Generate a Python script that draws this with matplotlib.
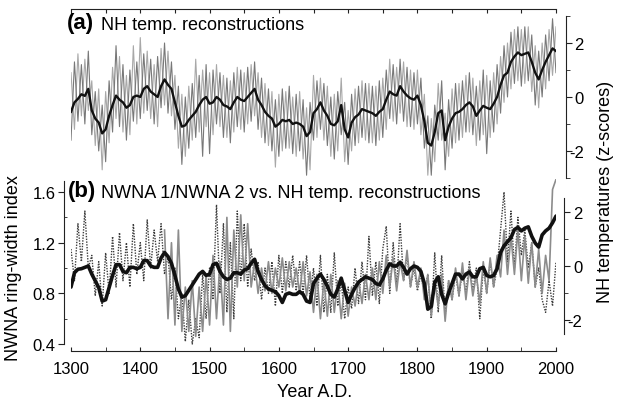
import matplotlib
matplotlib.use("Agg")
import matplotlib.pyplot as plt
import numpy as np
from matplotlib.ticker import FixedLocator

plt.rcParams['font.family'] = ['Liberation Sans', 'DejaVu Sans']
plt.rcParams['axes.unicode_minus'] = False

W, H = 620, 406

# NH temperature reconstructions (z-scores), 5-yr steps from 1300
nh_mean = [
    -0.55, -0.2, -0.07, 0.1, 0.04, 0.3, -0.5, -0.8, -0.95, -1.35,
    -1.2, -0.7, -0.3, 0.05, -0.1, -0.2, -0.4, -0.3, 0.0, 0.05,
    0.0, 0.3, 0.4, 0.2, 0.1, 0.0, 0.4, 0.65, 0.45, 0.3,
    -0.2, -0.7, -1.1, -1.05, -0.85, -0.7, -0.55, -0.3, -0.1, 0.0,
    -0.25, -0.2, 0.0, -0.1, -0.3, -0.35, -0.45, -0.2, 0.0, -0.1,
    -0.15, 0.0, 0.15, 0.3, -0.1, -0.3, -0.55, -0.7, -0.8, -1.1,
    -1.0, -0.85, -0.9, -0.85, -1.0, -0.95, -1.0, -1.1, -1.45, -1.3,
    -0.6, -0.45, -0.2, -0.5, -0.7, -1.0, -1.05, -0.9, -0.3, -1.2,
    -1.5, -0.95, -0.75, -0.65, -0.45, -0.5, -0.55, -0.6, -0.7, -0.55,
    -0.45, -0.1, 0.2, 0.1, 0.05, 0.4, 0.2, 0.05, -0.05, -0.1,
    0.05, -0.3, -0.9, -1.7, -1.8, -1.3, -0.6, -0.5, -1.6, -1.1,
    -0.8, -0.6, -0.55, -0.45, -0.3, -0.2, -0.35, -0.7, -0.5, -0.33,
    -0.4, -0.45, -0.25, 0.0, 0.45, 0.8, 0.9, 1.3, 1.5, 1.65,
    1.55, 1.6, 1.65, 1.3, 0.9, 0.65, 1.0, 1.3, 1.55, 1.8,
    1.7]
nh_rec1 = [
    0.9, -1.2, 1.6, -0.7, 1.4, -0.5, 0.6, -1.8, 0.3, -2.7,
    0.2, -1.7, 1.1, -0.8, 1.5, -1.3, 0.8, -1.4, 1.9, -1.0,
    2.2, -0.6, 1.7, -0.8, 1.2, -1.1, 1.8, -0.3, 1.7, -0.7,
    0.8, -1.9, 0.1, -2.2, 0.4, -1.6, 1.4, -1.3, 1.0, -1.1,
    0.9, -1.4, 1.2, -1.1, 0.8, -1.5, 0.6, -1.3, 1.1, -1.2,
    0.9, -1.0, 1.2, -0.7, 0.9, -1.5, 0.5, -1.8, 0.2, -2.6,
    0.1, -2.0, 0.2, -1.9, 0.0, -2.2, 0.2, -2.3, -0.4, -2.7,
    0.8, -1.5, 0.7, -1.6, 0.4, -2.2, 0.1, -2.0, 0.7, -2.4,
    -0.5, -2.0, 0.3, -1.7, 0.6, -1.6, 0.5, -1.7, 0.4, -1.6,
    0.7, -1.2, 1.4, -0.9, 1.1, -0.6, 1.3, -1.1, 1.0, -1.2,
    1.0, -1.4, 0.1, -2.9, -0.8, -2.4, 0.5, -1.6, -0.6, -2.2,
    0.3, -1.7, 0.5, -1.5, 0.8, -1.3, 0.7, -1.8, 0.6, -1.4,
    0.8, -1.5, 0.9, -1.0, 1.5, -0.2, 2.0, 0.3, 2.5, 0.6,
    2.5, 0.5, 2.6, 0.2, 1.9, -0.4, 2.0, 0.3, 2.5, 0.8,
    2.6]
nh_rec2 = [
    -1.6, 1.3, -0.9, 1.2, -1.0, 1.7, -1.4, 0.2, -2.0, -0.3,
    -2.4, 0.6, -1.3, 1.9, -1.1, 1.2, -1.6, 1.0, -0.9, 1.3,
    -0.8, 1.6, -0.5, 1.4, -1.0, 1.5, -0.4, 2.0, -0.6, 1.3,
    -1.2, 0.4, -2.5, 0.0, -1.9, 0.5, -1.5, 0.8, -2.2, 1.2,
    -2.1, 1.0, -1.0, 0.9, -1.5, 0.7, -1.7, 0.9, -1.1, 1.0,
    -1.3, 1.1, -0.9, 1.3, -1.2, 0.7, -1.7, 0.3, -2.0, -0.1,
    -2.2, 0.3, -1.9, 0.4, -2.1, 0.1, -2.0, -0.1, -2.9, -0.2,
    -1.6, 0.6, -1.2, 0.5, -1.8, 0.0, -2.3, 0.2, -1.4, -0.2,
    -2.5, 0.1, -1.8, 0.4, -1.5, 0.5, -1.7, 0.4, -1.8, 0.6,
    -1.5, 1.0, -0.8, 1.2, -1.0, 1.4, -0.9, 1.1, -1.1, 0.9,
    -1.0, 0.7, -1.9, -0.7, -2.9, -0.3, -1.6, 0.6, -2.7, -0.1,
    -1.9, 0.5, -1.6, 0.6, -1.3, 0.9, -1.4, 0.4, -1.6, 1.0,
    -2.1, 0.6, -1.3, 1.2, -0.6, 1.9, 0.0, 2.4, 0.5, 2.6,
    0.4, 2.6, 0.6, 2.3, -0.3, 1.7, 0.0, 2.3, 0.6, 2.9,
    0.9]

# smoothed NH temperature (z-scores) for panel b
nh_smooth = [
    -0.78, -0.25, -0.12, -0.1, -0.05, 0.0, -0.3, -0.55, -0.8, -1.3,
    -1.25, -0.8, -0.35, 0.05, 0.05, -0.2, -0.25, -0.05, -0.05, -0.1,
    -0.05, 0.2, 0.2, 0.0, -0.05, -0.05, 0.3, 0.5, 0.35, 0.1,
    -0.35, -0.85, -1.15, -1.1, -0.9, -0.7, -0.5, -0.3, -0.2, -0.35,
    -0.3, 0.05, 0.1, -0.2, -0.4, -0.5, -0.45, -0.25, -0.25, -0.3,
    -0.15, -0.1, 0.1, 0.25, -0.2, -0.5, -0.73, -0.85, -0.9, -0.95,
    -1.1, -1.35, -1.05, -1.0, -1.05, -1.05, -0.95, -1.05, -1.3, -1.35,
    -0.65, -0.45, -0.3, -0.5, -0.75, -1.05, -1.15, -0.85, -0.45, -0.9,
    -1.35, -1.05, -0.8, -0.6, -0.5, -0.4, -0.45, -0.5, -0.65, -0.7,
    -0.48, -0.15, 0.08, 0.0, 0.0, 0.14, -0.05, -0.3, -0.1, 0.0,
    -0.05, -0.2, -0.65, -1.6, -1.5, -0.6, -0.4, -1.05, -1.4, -1.0,
    -0.65, -0.3, -0.3, -0.48, -0.3, -0.22, -0.4, -0.4, -0.1, -0.05,
    -0.35, -0.4, -0.35, -0.1, 0.5, 0.75, 0.9, 1.05, 1.35, 1.43,
    1.3, 1.4, 1.45, 1.1, 0.85, 0.7, 1.15, 1.3, 1.4, 1.6,
    1.85]

# NWNA ring-width chronologies
nwna2 = [  # from 1300
    1.15, 0.9, 1.35, 1.05, 1.45, 1.0, 1.1, 0.78, 1.05, 0.7,
    1.12, 0.8, 1.25, 0.85, 1.28, 0.9, 1.2, 0.85, 1.35, 0.95,
    1.2, 0.9, 1.38, 1.0, 1.3, 1.05, 1.35, 0.95, 1.1, 0.75,
    1.0, 0.6, 0.8, 0.42, 0.75, 0.4, 0.6, 0.45, 0.95, 0.6,
    1.0, 0.75, 1.5, 0.8, 1.35, 0.65, 1.2, 0.6, 1.45, 0.9,
    1.35, 0.85, 1.15, 0.9, 1.05, 0.75, 1.0, 0.8, 1.05, 0.7,
    1.1, 0.8, 1.05, 0.85, 1.1, 0.82, 1.05, 0.8, 1.1, 0.75,
    1.0, 0.7, 1.1, 0.65, 0.95, 0.65, 1.12, 0.7, 0.9, 0.6,
    0.85, 0.68, 1.0, 0.72, 1.05, 0.75, 1.25, 0.78, 1.05, 0.72,
    1.15, 1.33, 0.8, 1.2, 0.85, 1.35, 0.9, 1.1, 0.85, 1.0,
    0.82, 0.95, 0.8, 0.95, 0.6, 1.12, 0.65, 1.1, 0.62, 0.9,
    0.75, 0.95, 0.78, 0.98, 0.8, 1.05, 0.82, 1.0, 0.6, 1.0,
    0.8, 1.05, 0.85, 1.0, 1.3, 1.6, 1.05, 1.45, 1.0, 1.4,
    1.1, 1.3, 1.0, 1.2, 0.85, 1.0, 0.75, 0.65, 0.9, 0.7,
    1.05]
nwna1 = [  # from 1435
    1.3, 0.6, 1.2, 0.55, 1.3, 0.5, 0.85, 0.5, 0.9, 0.46,
    0.85, 0.5, 0.95, 0.55, 1.1, 0.6, 1.05, 0.55, 1.4, 0.5,
    1.3, 0.85, 1.42, 0.9, 1.35, 0.85, 1.05, 0.8, 1.0, 0.82,
    1.05, 0.8, 1.0, 0.85, 1.08, 0.82, 1.05, 0.85, 1.0, 0.8,
    1.05, 0.78, 0.97, 0.65, 0.95, 0.6, 0.9, 0.62, 0.95, 0.65,
    0.9, 0.6, 0.88, 0.62, 0.85, 0.7, 0.9, 0.72, 0.95, 0.75,
    1.0, 0.75, 1.05, 0.8, 1.1, 0.85, 1.08, 0.82, 1.05, 0.9,
    1.14, 0.85, 1.05, 0.85, 1.0, 0.75, 0.95, 0.62, 0.9, 0.7,
    0.95, 0.58, 0.9, 0.75, 1.0, 0.78, 1.04, 0.75, 1.0, 0.78,
    0.95, 0.72, 1.05, 0.8, 1.08, 0.85, 1.1, 0.93, 1.3, 0.95,
    1.25, 0.95, 1.3, 0.9, 1.25, 0.88, 1.2, 0.85, 1.15, 0.8,
    1.1, 0.9, 1.62, 1.7]


def yrs(start, vals):
    return start + 5 * np.arange(len(vals))


def px_axes(fig, left, top, right, bottom):
    return fig.add_axes([left / W, 1 - bottom / H,
                         (right - left) / W, (bottom - top) / H])


def px_text(x, y, s, **kw):
    fig.text(x / W, 1 - y / H, s, **kw)


INK = '#222222'

fig = plt.figure(figsize=(W / 100, H / 100), dpi=100)

# ---- panel (a)
ax_a = px_axes(fig, 71, 10, 556, 180)
ax_a.patch.set_visible(False)
ax_a.plot(yrs(1300, nh_rec1), nh_rec1, color='#a8a8a8', lw=0.8)
ax_a.plot(yrs(1300, nh_rec2), nh_rec2, color='#787878', lw=0.8)
ax_a.plot(yrs(1300, nh_mean), nh_mean, color='#111111', lw=1.7)
ax_a.set_xlim(1300, 2000)
ax_a.set_ylim(-3.04, 3.26)
ax_a.spines['left'].set_visible(False)
ax_a.spines['bottom'].set_visible(False)
ax_a.spines['right'].set_position(('outward', 7))
ax_a.spines['right'].set_bounds(-3, 3)
for s in ('top', 'right'):
    ax_a.spines[s].set_color(INK)
ax_a.xaxis.tick_top()
ax_a.set_xticks(np.arange(1300, 2001, 50))
ax_a.tick_params(axis='x', direction='in', length=3, color=INK, labeltop=False)
ax_a.yaxis.tick_right()
ax_a.yaxis.set_major_locator(FixedLocator([-2, 0, 2]))
ax_a.yaxis.set_minor_locator(FixedLocator([-3, -1, 1, 3]))
ax_a.tick_params(axis='y', which='major', direction='out', length=4,
                 color=INK, labelsize=12, pad=9)
ax_a.tick_params(axis='y', which='minor', direction='out', length=3, color=INK)
for t in ax_a.get_yticklabels():
    t.set_ha('right')

# ---- panel (b)
ax_b = px_axes(fig, 71, 180, 556, 352)
ax_b.patch.set_visible(False)
ax_b.plot(yrs(1300, nwna2), nwna2, color='#3c3c3c', lw=1.0, ls=(0, (1, 1)))
ax_b.plot(yrs(1435, nwna1), nwna1, color='#8c8c8c', lw=1.2)
ax_b.set_xlim(1300, 2000)
ax_b.set_ylim(0.345, 1.703)
ax_b.spines['top'].set_visible(False)
ax_b.spines['right'].set_visible(False)
ax_b.spines['left'].set_position(('outward', 5))
ax_b.spines['left'].set_bounds(0.4, 1.69)
for s in ('left', 'bottom'):
    ax_b.spines[s].set_color(INK)
ax_b.set_yticks([0.4, 0.8, 1.2, 1.6], ['0.4', '0.8', '1.2', '1.6'])
ax_b.yaxis.set_minor_locator(FixedLocator([0.6, 1.0, 1.4]))
ax_b.set_xticks(np.arange(1300, 2001, 100))
ax_b.xaxis.set_minor_locator(FixedLocator(np.arange(1350, 2000, 100)))
ax_b.tick_params(axis='y', which='major', direction='out', length=4,
                 color=INK, labelsize=12, pad=2)
ax_b.tick_params(axis='y', which='minor', direction='in', length=2, color=INK)
ax_b.tick_params(axis='x', which='both', direction='in', length=3,
                 color=INK, labelsize=12, pad=7)

ax_b2 = ax_b.twinx()
ax_b2.plot(yrs(1300, nh_smooth), nh_smooth, color='#111111', lw=2.6,
           solid_joinstyle='round', solid_capstyle='round')
ax_b2.set_ylim(-3.148, 3.222)
for s in ('left', 'top', 'bottom'):
    ax_b2.spines[s].set_visible(False)
ax_b2.spines['right'].set_position(('outward', 6))
ax_b2.spines['right'].set_bounds(-2.5, 2.5)
ax_b2.spines['right'].set_color(INK)
ax_b2.yaxis.set_major_locator(FixedLocator([-2, 0, 2]))
ax_b2.yaxis.set_minor_locator(FixedLocator([-1, 1]))
ax_b2.tick_params(axis='y', which='major', direction='out', length=4,
                  color=INK, labelsize=12, pad=9)
ax_b2.tick_params(axis='y', which='minor', direction='out', length=3, color=INK)
for t in ax_b2.get_yticklabels():
    t.set_ha('right')

# ---- labels
px_text(67, 24, '(a)', fontsize=16, fontweight='bold', va='center')
px_text(101, 26, 'NH temp. reconstructions', fontsize=13, va='center')
px_text(68, 192, '(b)', fontsize=16, fontweight='bold', va='center')
px_text(101, 194, 'NWNA 1/NWNA 2 vs. NH temp. reconstructions',
        fontsize=13, va='center')
px_text(14, 268, 'NWNA ring-width index', fontsize=13, rotation=90,
        ha='center', va='center')
px_text(606, 192, 'NH temperatures (z-scores)', fontsize=13, rotation=90,
        ha='center', va='center')
px_text(315, 393, 'Year A.D.', fontsize=13, ha='center', va='center')

fig.savefig('out.png', dpi=100)
